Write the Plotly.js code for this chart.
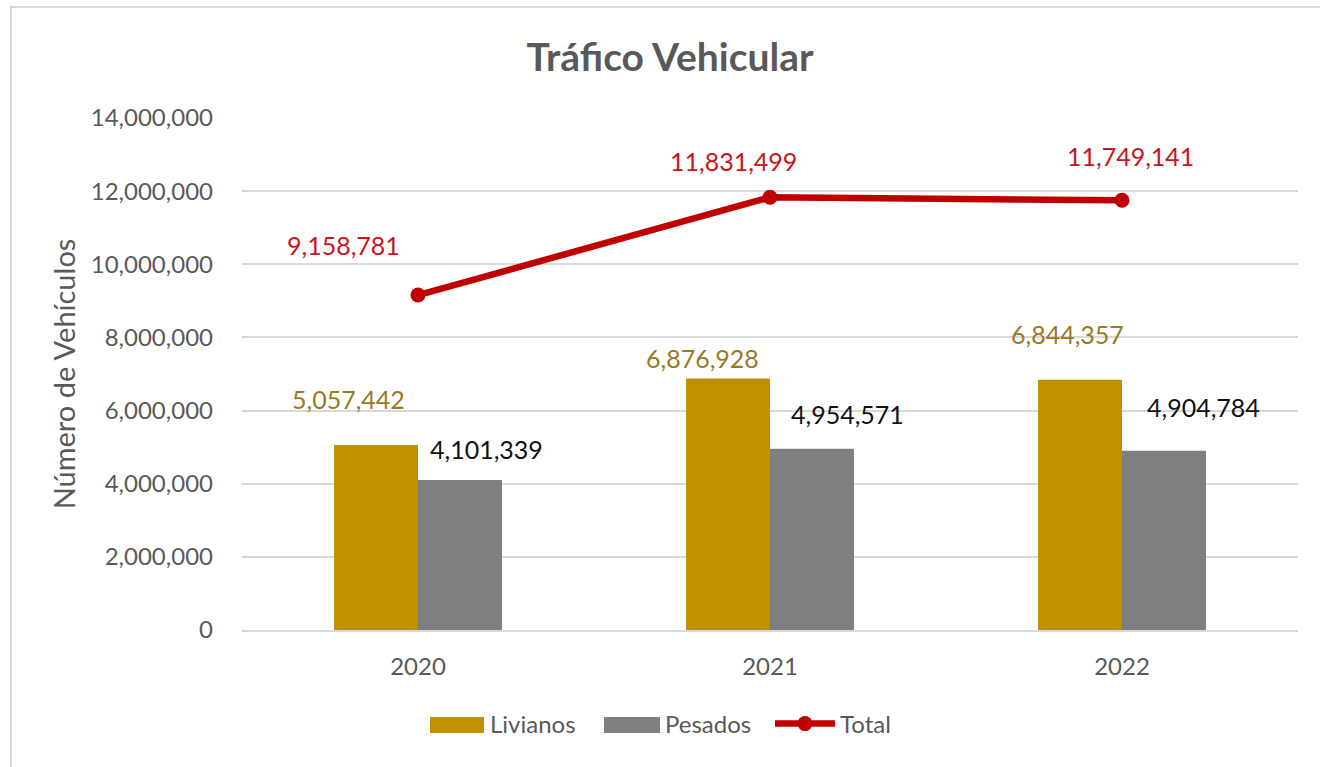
<!DOCTYPE html>
<html>
<head>
<meta charset="utf-8">
<script src="https://cdn.plot.ly/plotly-3.0.1.min.js"></script>
<style>
  html, body { margin: 0; padding: 0; background: #ffffff; }
  #chart { width: 1320px; height: 767px; }
  #err { position: absolute; left: 20px; top: 20px; color: blue; font: 14px sans-serif; }
</style>
</head>
<body>
<div id="chart"></div>
<div id="err"></div>
<script>
// ---- data ----
const years = ['2020', '2021', '2022'];
const livianos = [5057442, 6876928, 6844357];
const pesados = [4101339, 4954571, 4904784];
const total = [9158781, 11831499, 11749141];

// label offsets (px) relative to each category centre / value
const livShiftX = [-70, -68, -55];
const livShiftY = [46, 21, 46];
const pesShiftX = [68, 77, 81];
const pesShiftY = [31, 35, 44];
const totShiftX = [-75, -37, 8];
const totShiftY = [50, 36, 44];

try {
const FONT = 'Lato, "Open Sans", "DejaVu Sans", sans-serif';
const fmt = v => String(v).replace(/\B(?=(\d{3})+(?!\d))/g, ',');
const GOLD = '#BF9000', GREY = '#7F7F7F', RED = '#C00000';

const traces = [
  {
    type: 'bar', name: 'Livianos', x: years, y: livianos,
    marker: { color: GOLD }
  },
  {
    type: 'bar', name: 'Pesados', x: years, y: pesados,
    marker: { color: GREY }
  },
  {
    type: 'scatter', mode: 'lines+markers', name: 'Total', x: years, y: total,
    line: { color: RED, width: 6.5 },
    marker: { color: RED, size: 15 }
  }
];

const annotations = [];
function addLabels(vals, sx, sy, color) {
  for (let i = 0; i < vals.length; i++) {
    annotations.push({
      x: i, y: vals[i], xref: 'x', yref: 'y',
      text: fmt(vals[i]), showarrow: false,
      xanchor: 'center', yanchor: 'middle',
      xshift: sx[i], yshift: sy[i],
      font: { family: FONT, size: 25, color: color }
    });
  }
}
addLabels(livianos, livShiftX, livShiftY, '#997A1E');
addLabels(pesados, pesShiftX, pesShiftY, '#111111');
addLabels(total, totShiftX, totShiftY, '#C8141C');

// pixel -> paper helpers for decorative legend swatches / chart border
const PL = 242, PW = 1056, PB = 630, PH = 512;
const px = x => (x - PL) / PW;
const py = y => (PB - y) / PH;

const layout = {
  width: 1320, height: 767,
  margin: { l: 242, r: 22, t: 118, b: 137 },
  paper_bgcolor: '#ffffff', plot_bgcolor: '#ffffff',
  font: { family: FONT, color: '#595959', size: 24 },
  title: {
    text: '<b>Tráfico Vehicular</b>',
    font: { family: FONT, size: 39, color: '#595959' },
    x: 0.5076, xref: 'container', xanchor: 'center',
    y: 0.925, yref: 'container', yanchor: 'middle'
  },
  barmode: 'group',
  bargap: 0.523,
  bargroupgap: 0,
  showlegend: true,
  legend: {
    orientation: 'h', x: px(420), xanchor: 'left',
    y: py(724), yanchor: 'middle',
    bgcolor: 'rgba(0,0,0,0)',
    font: { family: FONT, size: 24, color: '#595959' },
    itemwidth: 60,
    entrywidth: 100,
    traceorder: 'normal'
  },
  xaxis: {
    type: 'category', range: [-0.5, 2.5],
    showgrid: false, zeroline: false,
    showline: true, linecolor: '#D9D9D9', linewidth: 2,
    ticks: '', ticklabelstandoff: 14,
    tickfont: { family: FONT, size: 24, color: '#595959' }
  },
  yaxis: {
    range: [0, 14000000], dtick: 2000000, tick0: 0,
    tickformat: ',d',
    showgrid: true, gridcolor: '#D9D9D9', gridwidth: 2,
    zeroline: false, showline: false,
    ticks: '', ticklabelstandoff: 28,
    tickfont: { family: FONT, size: 24, color: '#595959' },
    title: {
      text: 'Número de Vehículos',
      font: { family: FONT, size: 29, color: '#595959' },
      standoff: 6
    }
  },
  annotations: annotations,
  shapes: [
    { type: 'line', xref: 'paper', yref: 'paper', x0: px(11), x1: px(11), y0: py(7), y1: py(790),
      line: { color: '#D9D9D9', width: 2 } },
    { type: 'line', xref: 'paper', yref: 'paper', x0: px(10), x1: px(1340), y0: py(7), y1: py(7),
      line: { color: '#D9D9D9', width: 2 } },
    // wide legend swatches (Excel style)
    { type: 'rect', xref: 'paper', yref: 'paper', x0: px(430), x1: px(484), y0: py(717), y1: py(733),
      fillcolor: GOLD, line: { width: 0 } },
    { type: 'rect', xref: 'paper', yref: 'paper', x0: px(604), x1: px(660), y0: py(717), y1: py(733),
      fillcolor: GREY, line: { width: 0 } }
  ]
};

Plotly.newPlot('chart', traces, layout, { displayModeBar: false, staticPlot: true })
  .catch(e => { document.getElementById('err').textContent = 'ERR ' + e; });
} catch (e) {
  document.getElementById('err').textContent = 'ERR ' + e;
}
</script>
</body>
</html>
